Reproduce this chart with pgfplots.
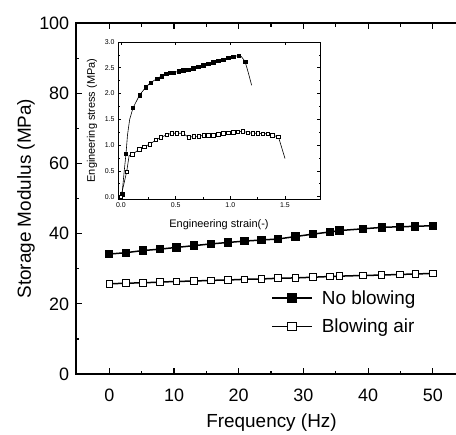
\documentclass[border=0pt]{standalone}
\usepackage{fontspec}
\setmainfont{Liberation Sans}
\usepackage{pgfplots}
\pgfplotsset{compat=1.18}
\begin{document}
\begin{tikzpicture}
\path[use as bounding box] (0bp,0bp) rectangle (456bp,435bp);
\begin{axis}[
  at={(75.7bp,61bp)}, anchor=south west,
  width=386.2bp, height=350.7bp, scale only axis,
  xmin=-5.2, xmax=54.5, ymin=0, ymax=100,
  xtick={0,10,...,50}, ytick={0,20,...,100},
  minor x tick num=1, minor y tick num=1,
  tick align=inside, ytick pos=left,
  major tick length=6bp, minor tick length=3.5bp,
  axis line style={line width=1.6bp},
  every tick/.style={line width=1.2bp, black},
  /pgf/number format/assume math mode=true,
  tick label style={font=\fontsize{18}{20}\selectfont},
  xticklabel style={anchor=center, yshift=-21bp},
  yticklabel style={xshift=-3bp},
  xlabel={Frequency (Hz)}, ylabel={Storage Modulus (MPa)},
  label style={font=\fontsize{19}{21}\selectfont},
  xlabel style={at={(axis description cs:0.507,-0.14)}, anchor=center},
  ylabel style={at={(axis description cs:-0.129,0.5)}, anchor=center},
  legend style={at={(axis cs:25.0,17.6)}, anchor=west, draw=none, fill=none,
    font=\fontsize{19}{21}\selectfont, inner sep=0pt, row sep=9bp,
    /tikz/every odd column/.append style={column sep=7bp}},
  legend cell align=left,
  every legend image post/.style={mark size=4.3bp},
  legend image code/.code={\draw[line width=1.6bp] (0bp,0bp) -- (40bp,0bp);
    \draw[mark repeat=2,mark phase=2,#1] plot coordinates {(0bp,0bp) (20bp,0bp) (40bp,0bp)};},
]
\addplot[black, line width=1.5bp, mark=square*, mark size=3.4bp, mark options={solid}] coordinates {
(0,34.2) (2.6,34.6) (5.2,35.2) (7.8,35.6) (10.4,36.1) (13.1,36.6) (15.7,37.1) (18.3,37.5)
(20.9,37.9) (23.5,38.2) (26.1,38.5) (28.8,39.2) (31.5,39.9) (34.1,40.5) (35.6,40.9)
(39.2,41.4) (42.1,41.8) (44.9,42.0) (47.3,42.1) (50,42.3)
};
\addplot[black, line width=1.5bp, mark=square*, mark size=3.3bp, mark options={solid, fill=white, line width=1bp}] coordinates {
(0,25.7) (2.6,25.9) (5.2,26.0) (7.8,26.2) (10.4,26.4) (13.1,26.5) (15.7,26.7) (18.3,26.8)
(20.9,27.0) (23.5,27.1) (26.1,27.3) (28.8,27.4) (31.5,27.6) (34.1,27.8) (35.6,27.9)
(39.2,28.1) (42.1,28.2) (44.9,28.4) (47.3,28.5) (50,28.7)
};
\legend{No blowing, Blowing air}
\end{axis}
\begin{axis}[
  at={(118bp,236bp)}, anchor=south west,
  width=202bp, height=157bp, scale only axis,
  xmin=-0.027, xmax=1.82, ymin=-0.045, ymax=3.0,
  xtick={0,0.5,1,1.5}, ytick={0,0.5,...,3},
  minor x tick num=1, minor y tick num=1,
  tick align=inside, major tick length=3bp, minor tick length=1.5bp,
  axis line style={line width=0.6bp},
  every tick/.style={line width=0.6bp, black},
  /pgf/number format/assume math mode=true,
  tick label style={font=\fontsize{7}{8}\selectfont, /pgf/number format/.cd, fixed, fixed zerofill, precision=1},
  xlabel={Engineering strain(-)}, ylabel={Engineering stress (MPa)},
  label style={font=\fontsize{11}{12}\selectfont},
  xlabel style={at={(axis description cs:0.5,-0.166)}, anchor=center},
  ylabel style={at={(axis description cs:-0.129,0.5)}, anchor=center},
]
% filled series: line
\addplot[black, line width=0.6bp, no markers] coordinates {
(0,0) (0.01,0.05) (0.03,0.5) (0.046,0.83) (0.06,1.2) (0.08,1.5) (0.11,1.72) (0.17,1.97)
(0.226,2.12) (0.27,2.21) (0.33,2.29) (0.372,2.34) (0.412,2.38) (0.448,2.40) (0.485,2.41)
(0.528,2.43) (0.57,2.45) (0.616,2.46) (0.662,2.49) (0.707,2.52) (0.753,2.55) (0.799,2.58)
(0.845,2.61) (0.89,2.64) (0.936,2.66) (0.982,2.69) (1.028,2.71) (1.074,2.74) (1.10,2.72)
(1.135,2.62) (1.165,2.40) (1.195,2.16)
};
\addplot[black, only marks, mark=square*, mark size=1.7bp] coordinates {
(0.01,0.05) (0.046,0.83) (0.11,1.72) (0.17,1.97) (0.226,2.12) (0.27,2.21) (0.33,2.29)
(0.372,2.34) (0.412,2.38) (0.448,2.40) (0.485,2.41) (0.528,2.43) (0.57,2.45) (0.616,2.46)
(0.662,2.49) (0.707,2.52) (0.753,2.55) (0.799,2.58) (0.845,2.61) (0.89,2.64) (0.936,2.66)
(0.982,2.69) (1.028,2.71) (1.074,2.74) (1.135,2.62)
};
% open series: line
\addplot[black, line width=0.6bp, no markers] coordinates {
(0,0) (0.052,0.48) (0.075,0.80) (0.104,0.82) (0.168,0.92) (0.214,0.97) (0.265,1.02)
(0.32,1.10) (0.366,1.15) (0.418,1.20) (0.464,1.23) (0.51,1.23) (0.565,1.23) (0.62,1.15)
(0.665,1.17) (0.71,1.17) (0.755,1.19) (0.80,1.19) (0.845,1.19) (0.89,1.21) (0.935,1.23)
(0.98,1.24) (1.025,1.25) (1.07,1.26) (1.115,1.27) (1.16,1.24) (1.205,1.23) (1.25,1.23)
(1.295,1.22) (1.34,1.22) (1.385,1.19) (1.44,1.16) (1.47,0.95) (1.50,0.74)
};
\addplot[black, only marks, mark=square*, mark size=1.7bp, mark options={fill=white, line width=0.5bp}] coordinates {
(0,0) (0.052,0.48) (0.104,0.82) (0.168,0.92) (0.214,0.97) (0.265,1.02)
(0.32,1.10) (0.366,1.15) (0.418,1.20) (0.464,1.23) (0.51,1.23) (0.565,1.23) (0.62,1.15)
(0.665,1.17) (0.71,1.17) (0.755,1.19) (0.80,1.19) (0.845,1.19) (0.89,1.21) (0.935,1.23)
(0.98,1.24) (1.025,1.25) (1.07,1.26) (1.115,1.27) (1.16,1.24) (1.205,1.23) (1.25,1.23)
(1.295,1.22) (1.34,1.22) (1.385,1.19) (1.44,1.16)
};
\end{axis}
\end{tikzpicture}
\end{document}
